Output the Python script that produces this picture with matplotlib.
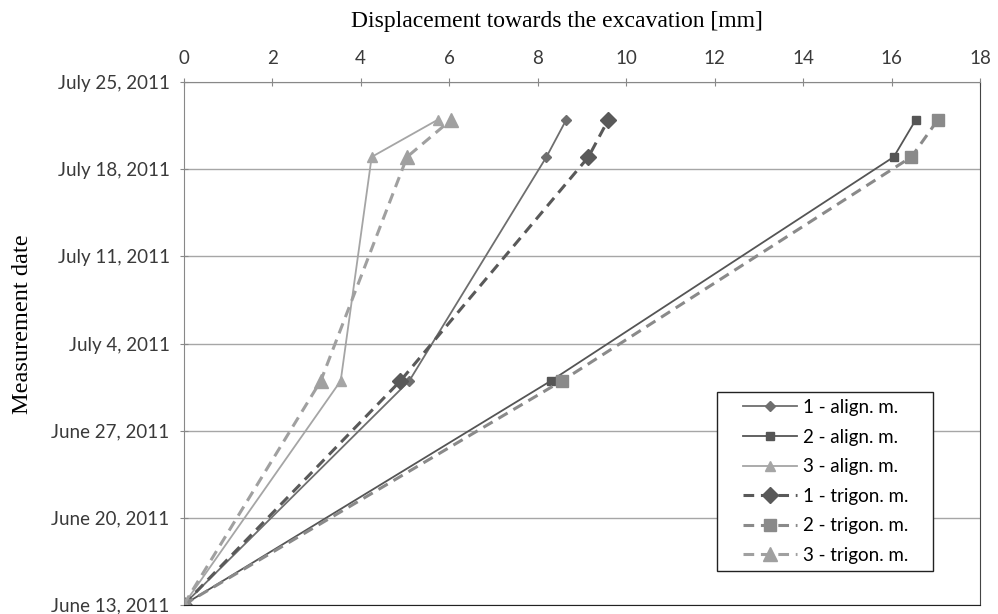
import datetime as dt
import matplotlib
matplotlib.use("Agg")
import matplotlib.pyplot as plt
import matplotlib.dates as mdates
from matplotlib.patches import Rectangle

# measurement dates and displacements [mm]
dates = [dt.date(2011, 6, 13), dt.date(2011, 7, 1), dt.date(2011, 7, 19), dt.date(2011, 7, 22)]
align_1 = [0, 5.1, 8.2, 8.65]
align_2 = [0, 8.3, 16.05, 16.55]
align_3 = [0, 3.55, 4.25, 5.75]
trigon_1 = [0, 4.9, 9.15, 9.6]
trigon_2 = [0, 8.55, 16.45, 17.05]
trigon_3 = [0, 3.1, 5.05, 6.05]

tick_dates = [dt.date(2011, 6, 13) + dt.timedelta(days=7 * i) for i in range(7)]
x_ticks = [0, 2, 4, 6, 8, 10, 12, 14, 16, 18]

W, H = 998, 614
fig = plt.figure(figsize=(W / 100, H / 100), dpi=100)
ax = fig.add_axes([0.184, 0.015, 0.798, 0.851])

tick_font = "Lato"

ax.plot(align_1, dates, color="#6e6e6e", lw=1.3, marker="D", ms=5, label="1 - align. m.")
ax.plot(align_2, dates, color="#555555", lw=1.3, marker="s", ms=5.5, label="2 - align. m.")
ax.plot(align_3, dates, color="#a5a5a5", lw=1.3, marker="^", ms=7, label="3 - align. m.")
ax.plot(trigon_1, dates, color="#595959", lw=2.2, ls=(0, (3.5, 2.2)), marker="D", ms=8, label="1 - trigon. m.")
ax.plot(trigon_2, dates, color="#8a8a8a", lw=2.2, ls=(0, (3.5, 2.2)), marker="s", ms=8.5, label="2 - trigon. m.")
ax.plot(trigon_3, dates, color="#a0a0a0", lw=2.2, ls=(0, (3.5, 2.2)), marker="^", ms=10, label="3 - trigon. m.")

ax.set_xlim(0, 18)
ax.set_ylim(tick_dates[0], tick_dates[-1])
ax.set_xticks(x_ticks)
ax.set_yticks(tick_dates)
ax.yaxis.set_major_formatter(mdates.DateFormatter("%B %-d, %Y"))

ax.xaxis.tick_top()
ax.xaxis.set_label_position("top")
ax.set_xlabel("Displacement towards the excavation [mm]", family="Liberation Serif", fontsize=17)
ax.set_ylabel("Measurement date", family="Liberation Serif", fontsize=17.5)
ax.xaxis.set_label_coords(0.469, 1.105)
ax.yaxis.set_label_coords(-0.189, 0.537)

ax.grid(axis="y", color="#a6a6a6", lw=1)
ax.set_axisbelow(True)
for lbl in ax.get_xticklabels() + ax.get_yticklabels():
    lbl.set_family(tick_font)
    lbl.set_fontsize(13.5)
    lbl.set_color("#3a3a3a")
ax.tick_params(axis="both", direction="inout", length=6, color="#888888")
ax.tick_params(axis="y", pad=7)
ax.tick_params(axis="x", pad=8)

ax.spines["top"].set_color("#888888")
ax.spines["left"].set_color("#888888")
ax.spines["bottom"].set_color("#222222")
ax.spines["right"].set_color("#444444")

# legend frame drawn separately (Excel style padding)
box = Rectangle((717 / W, 1 - 571 / H), 216 / W, 179 / H, transform=fig.transFigure,
                facecolor="white", edgecolor="#222222", lw=1, zorder=4.9, clip_on=False)
ax.add_patch(box)
leg = ax.legend(loc="upper left", bbox_to_anchor=(743 / W, 1 - 399 / H), bbox_transform=fig.transFigure,
                borderaxespad=0, borderpad=0, frameon=False,
                prop={"family": tick_font, "size": 13.5}, handlelength=2.88, handletextpad=0.32,
                labelspacing=0.67)
leg.set_zorder(5)

fig.savefig("out.png", dpi=100)
